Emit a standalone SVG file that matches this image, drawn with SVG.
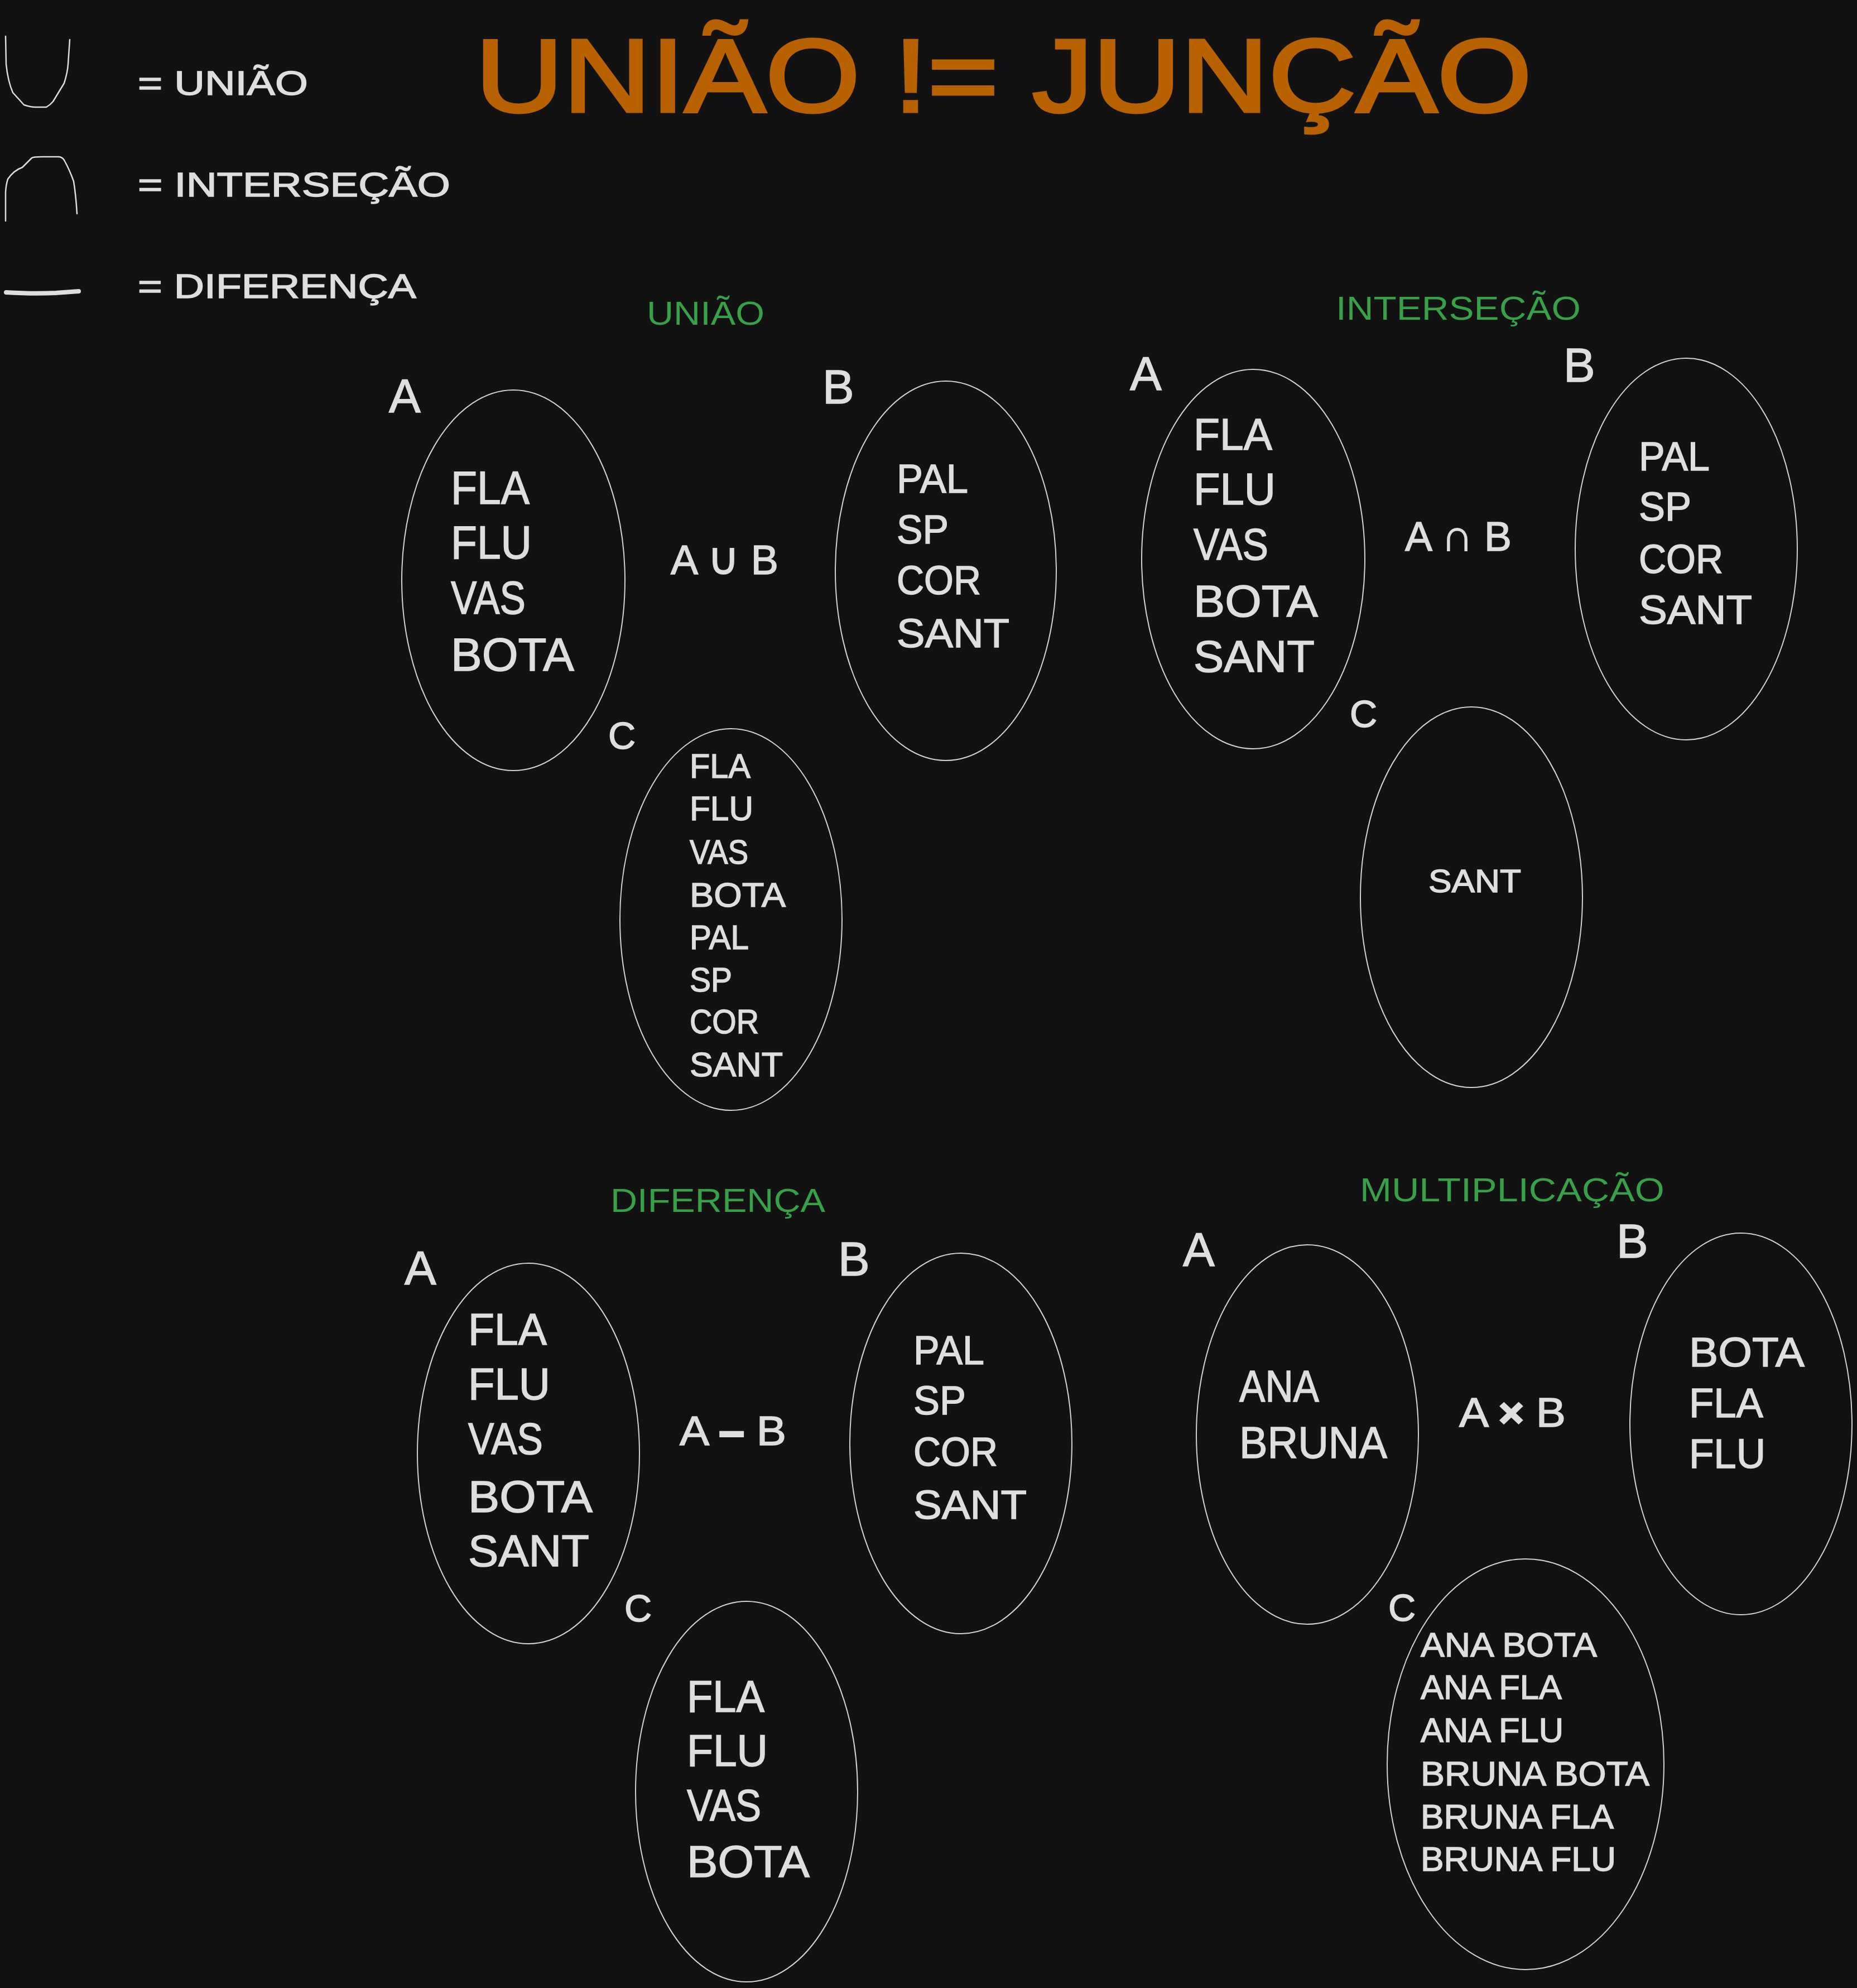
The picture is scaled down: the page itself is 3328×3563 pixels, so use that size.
<svg xmlns="http://www.w3.org/2000/svg" width="3328" height="3563" viewBox="0 0 3328 3563">
<style>
text{font-family:"Liberation Sans","DejaVu Sans",sans-serif;fill:#dedede;stroke:#dedede;stroke-width:1.5}
.title{fill:#b76100;stroke:#b76100;stroke-width:5;font-size:185px}
.sec{fill:#38a048;stroke:none;font-size:60px}
.leg{font-size:62px}
.lbl{font-size:85px}
.lblc{font-size:68px}
.op{font-size:75px}
.f83{font-size:83px}
.f80{font-size:80px}
.f75{font-size:75px}
.f73{font-size:73px}
.f62{font-size:62px}
.f58{font-size:58px}
.set{fill:none;stroke:#d4d4d4;stroke-width:2}
.sym{fill:none;stroke:#dedede;stroke-width:2.5;stroke-linecap:round;stroke-linejoin:round}
</style>
<rect width="3328" height="3563" fill="#121212"/>

<g id="title">
<text class="title" x="852" y="200" textLength="1893" lengthAdjust="spacingAndGlyphs">UNIÃO != JUNÇÃO</text>
</g>

<g id="legend">
<path class="sym" d="M10,65 L11,115 Q14,145 23,166 L43,188 Q55,192 63,192 L83,192 Q90,188 95,182 L115,149 Q121,130 122,115 L125,71"/>
<text class="leg" x="247" y="170" textLength="305" lengthAdjust="spacingAndGlyphs">= UNIÃO</text>
<path class="sym" d="M10,396 L10,344 Q11,330 14,321 Q25,305 40,300 L57,283 Q60,281 75,281 L106,281 Q112,282 115,287 Q125,305 132,325 Q136,350 138,383"/>
<text class="leg" x="247" y="352" textLength="560" lengthAdjust="spacingAndGlyphs">= INTERSEÇÃO</text>
<path d="M11,524 Q60,527 100,525 L141,522" fill="none" stroke="#dedede" stroke-width="8" stroke-linecap="round"/>
<text class="leg" x="247" y="534" textLength="499" lengthAdjust="spacingAndGlyphs">= DIFERENÇA</text>
</g>

<g id="connectors"/>

<!-- UNIÃO -->
<g id="uniao">
<text class="sec" x="1159" y="582" textLength="211" lengthAdjust="spacingAndGlyphs">UNIÃO</text>
<text class="op" x="1202" y="1029" textLength="193" lengthAdjust="spacingAndGlyphs">A <tspan font-size="80">∪</tspan> B</text>
</g>
<g id="uniao-A">
<text class="lbl" x="697" y="739">A</text>
<ellipse class="set" cx="920" cy="1040" rx="200" ry="341"/>
<text class="f83" x="808" y="903" textLength="141" lengthAdjust="spacingAndGlyphs">FLA</text>
<text class="f83" x="808" y="1001" textLength="145" lengthAdjust="spacingAndGlyphs">FLU</text>
<text class="f83" x="808" y="1100" textLength="134" lengthAdjust="spacingAndGlyphs">VAS</text>
<text class="f83" x="808" y="1202" textLength="221" lengthAdjust="spacingAndGlyphs">BOTA</text>
</g>
<g id="uniao-B">
<text class="lbl" x="1474" y="723">B</text>
<ellipse class="set" cx="1695" cy="1023" rx="198" ry="340"/>
<text class="f73" x="1607" y="883" textLength="128" lengthAdjust="spacingAndGlyphs">PAL</text>
<text class="f73" x="1607" y="974" textLength="93" lengthAdjust="spacingAndGlyphs">SP</text>
<text class="f73" x="1607" y="1065" textLength="151" lengthAdjust="spacingAndGlyphs">COR</text>
<text class="f73" x="1607" y="1160" textLength="202" lengthAdjust="spacingAndGlyphs">SANT</text>
</g>
<g id="uniao-C">
<text class="lblc" x="1090" y="1342">C</text>
<ellipse class="set" cx="1310" cy="1648" rx="199" ry="342"/>
<text class="f62" x="1236" y="1394" textLength="109" lengthAdjust="spacingAndGlyphs">FLA</text>
<text class="f62" x="1236" y="1470" textLength="114" lengthAdjust="spacingAndGlyphs">FLU</text>
<text class="f62" x="1236" y="1548" textLength="105" lengthAdjust="spacingAndGlyphs">VAS</text>
<text class="f62" x="1236" y="1625" textLength="172" lengthAdjust="spacingAndGlyphs">BOTA</text>
<text class="f62" x="1236" y="1701" textLength="106" lengthAdjust="spacingAndGlyphs">PAL</text>
<text class="f62" x="1236" y="1777" textLength="76" lengthAdjust="spacingAndGlyphs">SP</text>
<text class="f62" x="1236" y="1852" textLength="124" lengthAdjust="spacingAndGlyphs">COR</text>
<text class="f62" x="1236" y="1929" textLength="167" lengthAdjust="spacingAndGlyphs">SANT</text>
</g>

<!-- INTERSEÇÃO -->
<g id="intersecao">
<text class="sec" x="2394" y="573" textLength="439" lengthAdjust="spacingAndGlyphs">INTERSEÇÃO</text>
<text class="op" x="2518" y="987" textLength="191" lengthAdjust="spacingAndGlyphs">A <tspan font-size="80">∩</tspan> B</text>
</g>
<g id="intersecao-A">
<text class="lbl" x="2025" y="699">A</text>
<ellipse class="set" cx="2246" cy="1002" rx="200" ry="340"/>
<text class="f80" x="2139" y="806" textLength="141" lengthAdjust="spacingAndGlyphs">FLA</text>
<text class="f80" x="2139" y="904" textLength="147" lengthAdjust="spacingAndGlyphs">FLU</text>
<text class="f80" x="2139" y="1003" textLength="134" lengthAdjust="spacingAndGlyphs">VAS</text>
<text class="f80" x="2139" y="1105" textLength="223" lengthAdjust="spacingAndGlyphs">BOTA</text>
<text class="f80" x="2139" y="1204" textLength="217" lengthAdjust="spacingAndGlyphs">SANT</text>
</g>
<g id="intersecao-B">
<text class="lbl" x="2802" y="684">B</text>
<ellipse class="set" cx="3022" cy="984" rx="199" ry="342"/>
<text class="f73" x="2937" y="843" textLength="127" lengthAdjust="spacingAndGlyphs">PAL</text>
<text class="f73" x="2937" y="933" textLength="94" lengthAdjust="spacingAndGlyphs">SP</text>
<text class="f73" x="2937" y="1027" textLength="151" lengthAdjust="spacingAndGlyphs">COR</text>
<text class="f73" x="2937" y="1118" textLength="203" lengthAdjust="spacingAndGlyphs">SANT</text>
</g>
<g id="intersecao-C">
<text class="lblc" x="2419" y="1303">C</text>
<ellipse class="set" cx="2637" cy="1608" rx="199" ry="341"/>
<text class="f58" x="2560" y="1599" textLength="166" lengthAdjust="spacingAndGlyphs">SANT</text>
</g>

<!-- DIFERENÇA -->
<g id="diferenca">
<text class="sec" x="1094" y="2172" textLength="385" lengthAdjust="spacingAndGlyphs">DIFERENÇA</text>
<text class="op" x="1218" y="2590" textLength="191" lengthAdjust="spacingAndGlyphs">A <tspan font-weight="bold" stroke-width="4">–</tspan> B</text>
</g>
<g id="diferenca-A">
<text class="lbl" x="725" y="2302">A</text>
<ellipse class="set" cx="947" cy="2605" rx="199" ry="341"/>
<text class="f80" x="839" y="2410" textLength="141" lengthAdjust="spacingAndGlyphs">FLA</text>
<text class="f80" x="839" y="2508" textLength="147" lengthAdjust="spacingAndGlyphs">FLU</text>
<text class="f80" x="839" y="2606" textLength="134" lengthAdjust="spacingAndGlyphs">VAS</text>
<text class="f80" x="839" y="2710" textLength="223" lengthAdjust="spacingAndGlyphs">BOTA</text>
<text class="f80" x="839" y="2807" textLength="217" lengthAdjust="spacingAndGlyphs">SANT</text>
</g>
<g id="diferenca-B">
<text class="lbl" x="1502" y="2286">B</text>
<ellipse class="set" cx="1722" cy="2587" rx="199" ry="341"/>
<text class="f73" x="1637" y="2445" textLength="127" lengthAdjust="spacingAndGlyphs">PAL</text>
<text class="f73" x="1637" y="2535" textLength="94" lengthAdjust="spacingAndGlyphs">SP</text>
<text class="f73" x="1637" y="2627" textLength="151" lengthAdjust="spacingAndGlyphs">COR</text>
<text class="f73" x="1637" y="2722" textLength="203" lengthAdjust="spacingAndGlyphs">SANT</text>
</g>
<g id="diferenca-C">
<text class="lblc" x="1119" y="2906">C</text>
<ellipse class="set" cx="1338" cy="3211" rx="199" ry="341"/>
<text class="f80" x="1231" y="3068" textLength="139" lengthAdjust="spacingAndGlyphs">FLA</text>
<text class="f80" x="1231" y="3165" textLength="145" lengthAdjust="spacingAndGlyphs">FLU</text>
<text class="f80" x="1231" y="3263" textLength="133" lengthAdjust="spacingAndGlyphs">VAS</text>
<text class="f80" x="1231" y="3364" textLength="220" lengthAdjust="spacingAndGlyphs">BOTA</text>
</g>

<!-- MULTIPLICAÇÃO -->
<g id="multiplicacao">
<text class="sec" x="2437" y="2153" textLength="546" lengthAdjust="spacingAndGlyphs">MULTIPLICAÇÃO</text>
<text class="op" x="2615" y="2557" textLength="191" lengthAdjust="spacingAndGlyphs">A <tspan font-weight="bold" font-size="72" stroke-width="3">×</tspan> B</text>
</g>
<g id="multiplicacao-A">
<text class="lbl" x="2120" y="2269">A</text>
<ellipse class="set" cx="2343" cy="2571" rx="199" ry="340"/>
<text class="f80" x="2221" y="2512" textLength="143" lengthAdjust="spacingAndGlyphs">ANA</text>
<text class="f80" x="2221" y="2613" textLength="265" lengthAdjust="spacingAndGlyphs">BRUNA</text>
</g>
<g id="multiplicacao-B">
<text class="lbl" x="2897" y="2254">B</text>
<ellipse class="set" cx="3120" cy="2552" rx="199" ry="342"/>
<text class="f75" x="3027" y="2449" textLength="207" lengthAdjust="spacingAndGlyphs">BOTA</text>
<text class="f75" x="3027" y="2540" textLength="133" lengthAdjust="spacingAndGlyphs">FLA</text>
<text class="f75" x="3027" y="2631" textLength="137" lengthAdjust="spacingAndGlyphs">FLU</text>
</g>
<g id="multiplicacao-C">
<text class="lblc" x="2488" y="2905">C</text>
<ellipse class="set" cx="2734" cy="3162" rx="248" ry="368"/>
<text class="f62" x="2546" y="2969" textLength="316" lengthAdjust="spacingAndGlyphs">ANA BOTA</text>
<text class="f62" x="2546" y="3045" textLength="253" lengthAdjust="spacingAndGlyphs">ANA FLA</text>
<text class="f62" x="2546" y="3122" textLength="256" lengthAdjust="spacingAndGlyphs">ANA FLU</text>
<text class="f62" x="2546" y="3200" textLength="410" lengthAdjust="spacingAndGlyphs">BRUNA BOTA</text>
<text class="f62" x="2546" y="3277" textLength="346" lengthAdjust="spacingAndGlyphs">BRUNA FLA</text>
<text class="f62" x="2546" y="3353" textLength="350" lengthAdjust="spacingAndGlyphs">BRUNA FLU</text>
</g>
</svg>
